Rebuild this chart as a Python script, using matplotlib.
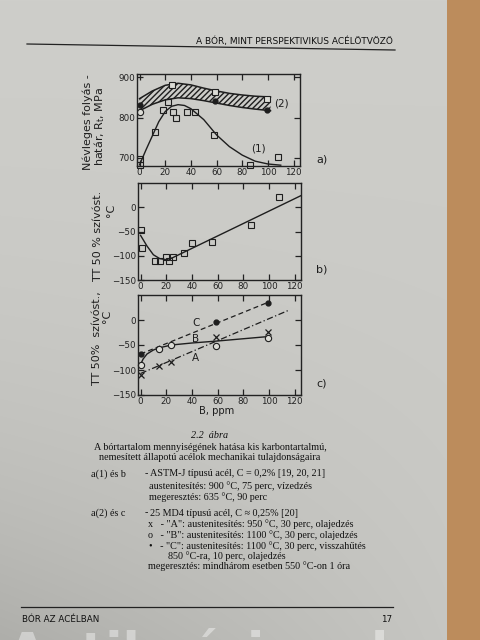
import numpy as np
import matplotlib
matplotlib.use("Agg")
import matplotlib.pyplot as plt

# ---------------- data ----------------
# panel a
a1_sq_x = [0, 0, 12, 18, 22, 26, 28, 37, 43, 58, 86, 108]
a1_sq_y = [697, 683, 765, 820, 839, 815, 798, 815, 815, 757, 683, 703]
a1_curve_x = [0, 5, 10, 15, 20, 25, 30, 35, 40, 50, 60, 70, 80, 90, 100, 110]
a1_curve_y = [683, 720, 755, 790, 815, 828, 832, 830, 822, 795, 757, 728, 707, 692, 685, 682]
a2_band_x = [0, 10, 20, 30, 40, 50, 60, 70, 80, 90, 102]
a2_band_hi = [847, 866, 880, 885, 881, 873, 866, 860, 856, 853, 851]
a2_band_lo = [817, 833, 844, 849, 847, 842, 836, 830, 825, 821, 817]
a2_dot_x = [0, 59, 99]
a2_dot_y = [832, 841, 819]
a2_circ_x = [0]
a2_circ_y = [813]
a2_sq_x = [25, 59, 99]
a2_sq_y = [880, 864, 847]

# panel b
b_sq_x = [0.5, 1, 11, 15, 20, 22.5, 25.5, 34, 40, 56, 86, 108]
b_sq_y = [-47, -85, -110, -111, -102, -111, -103, -95, -74, -71, -37, 22]
b_curve_x = [0, 5, 10, 15, 20, 25, 125]
b_curve_y = [-58, -80, -98, -106, -108, -104, 24]

# panel c
cA_x = [0, 14, 24, 59, 99]
cA_y = [-109, -92, -83, -33, -23]
cA_line_x = [0, 115]
cA_line_y = [-107, 19]
cB_x = [0, 14, 24, 59, 99]
cB_y = [-89, -57, -50, -51, -35]
cB_curve_x = [0, 2, 5, 10, 14, 24, 40, 60, 100]
cB_curve_y = [-89, -78, -68, -60, -56, -50, -46, -42, -33]
cC_x = [0, 59, 99]
cC_y = [-68, -4, 35]

xticks = [0, 20, 40, 60, 80, 100, 120]
a_yticks = [700, 800, 900]
bc_yticks = [-150, -100, -50, 0]

# ---------------- figure ----------------
W, H = 480, 640
fig = plt.figure(figsize=(4.8, 6.4), dpi=100)

# page background (photo of paper)
bg = fig.add_axes([0, 0, 1, 1], zorder=-10)
yy, xx = np.mgrid[0:H, 0:W]
base = 206 - 26 * (yy / H) ** 3 * (1 - xx / W) - 6 * (yy / H)
img = np.stack([base, base, base - 4], axis=-1)
edge = xx > 446
img[edge] = [188, 140, 92]
bg.imshow(np.clip(img, 0, 255).astype(np.uint8), extent=[0, W, H, 0], aspect='auto')
bg.set_xlim(0, W)
bg.set_ylim(H, 0)
bg.axis('off')

def P(x, y):
    return x / W, 1 - y / H

def mk_axes(x0, y0, x1, y1):
    ax = fig.add_axes([x0 / W, 1 - y1 / H, (x1 - x0) / W, (y1 - y0) / H])
    ax.set_facecolor('none')
    for s in ax.spines.values():
        s.set_linewidth(1.0)
        s.set_color('#222222')
    ax.tick_params(direction='in', top=True, right=True, length=4, width=0.9,
                   labelsize=6.3, colors='#222222', pad=1.5)
    ax.set_xlim(-2, 125)
    ax.set_xticks(xticks)
    return ax

ink = '#1e1e1e'
ms = 4.5

# ---- panel a ----
ax1 = mk_axes(137, 74, 300, 166)
ax1.set_ylim(680, 908)
ax1.set_yticks(a_yticks)
ax1.fill_between(a2_band_x, a2_band_lo, a2_band_hi, facecolor='none',
                 edgecolor=ink, hatch='//////', linewidth=0)
ax1.plot(a2_band_x, a2_band_hi, color=ink, lw=1.1)
ax1.plot(a2_band_x, a2_band_lo, color=ink, lw=1.1)
ax1.plot(a2_dot_x, a2_dot_y, 'o', color=ink, ms=3.5)
ax1.plot(a2_circ_x, a2_circ_y, 'o', mfc='#dcdcd6', mec=ink, ms=ms, mew=0.8)
ax1.plot(a2_sq_x, a2_sq_y, 's', mfc='#dcdcd6', mec=ink, ms=ms, mew=0.8)
ax1.plot(a1_curve_x, a1_curve_y, color=ink, lw=1.0)
ax1.plot(a1_sq_x, a1_sq_y, 's', mfc='none', mec=ink, ms=ms, mew=0.8, clip_on=False)
ax1.text(105, 836, '(2)', fontsize=7.5, color=ink, va='center')
ax1.text(87, 724, '(1)', fontsize=7.5, color=ink, va='center')

# ---- panel b ----
ax2 = mk_axes(138, 183, 301, 280)
ax2.set_ylim(-150, 50)
ax2.set_yticks(bc_yticks)
ax2.plot(b_curve_x, b_curve_y, color=ink, lw=1.0)
ax2.plot(b_sq_x, b_sq_y, 's', mfc='none', mec=ink, ms=ms, mew=0.8, clip_on=False)

# ---- panel c ----
ax3 = mk_axes(138, 295, 301, 395)
ax3.set_ylim(-150, 50)
ax3.set_yticks(bc_yticks)
ax3.plot([cC_x[0], cC_x[-1]], [cC_y[0], cC_y[-1]], color=ink, lw=0.9, ls=(0, (4, 2.5)))
ax3.plot(cC_x, cC_y, 'o', color=ink, ms=3.5, ls='none')
ax3.plot(cA_line_x, cA_line_y, color=ink, lw=0.9, ls=(0, (5, 2, 1, 2)))
ax3.plot(cA_x, cA_y, 'x', color=ink, ms=3.8, mew=0.9, ls='none')
ax3.plot(cB_curve_x, cB_curve_y, color=ink, lw=1.0)
ax3.plot(cB_x, cB_y, 'o', mfc='#dcdcd6', mec=ink, ms=ms, mew=0.8, ls='none', clip_on=False)
ax3.text(40, -7, 'C', fontsize=7.5, color=ink, va='center')
ax3.text(40, -39, 'B', fontsize=7.5, color=ink, va='center')
ax3.text(40, -76, 'A', fontsize=7.5, color=ink, va='center')

# ---- axis labels ----
lab = dict(color=ink, rotation=90, ha='center', va='center', fontsize=8)
fig.text(*P(88, 122), 'Névleges folyás -', **lab)
fig.text(*P(100, 126), 'határ, R$_\\mathregular{t}$, MPa', **lab)
fig.text(*P(98, 236), 'TT 50 % szívóst.', **lab)
fig.text(*P(111, 210), '°C', **lab)
fig.text(*P(97, 338), 'TT 50%  szívóst.,', **lab)
fig.text(*P(107, 316), '°C', **lab)
fig.text(*P(217, 411), 'B, ppm', color=ink, fontsize=7.2, ha='center', va='center')
fig.text(*P(316, 160), 'a)', color=ink, fontsize=8, va='center')
fig.text(*P(316, 270), 'b)', color=ink, fontsize=8, va='center')
fig.text(*P(316, 384), 'c)', color=ink, fontsize=8, va='center')

# ---- header / footer ----
fig.text(*P(393, 41), 'A BÓR, MINT PERSPEKTIVIKUS ACÉLÖTVÖZŐ', fontsize=6.5,
         color='#111111', va='center', ha='right', family='DejaVu Sans')
bg.plot([27, 395], [44, 50], color='#222222', lw=0.9)
bg.plot([21, 393], [607, 607], color='#222222', lw=0.9)
fig.text(*P(22, 619), 'BÓR AZ ACÉLBAN', fontsize=6.3, color='#111111', va='center')
fig.text(*P(392, 619), '17', fontsize=6.3, color='#111111', va='center', ha='right')
fig.text(*P(8, 668), 'Antikvárium.hu', fontsize=36, fontweight='bold',
         color='white', alpha=0.4, va='baseline')

# ---- caption ----
serif = dict(family='Liberation Serif', color='#111111', fontsize=7.3, va='center')
fig.text(*P(210, 436), '2.2  ábra', ha='center', style='italic', **serif)
fig.text(*P(210, 447), 'A bórtartalom mennyiségének hatása kis karbontartalmú,', ha='center', **serif)
fig.text(*P(210, 458), 'nemesített állapotú acélok mechanikai tulajdonságaira', ha='center', **serif)
fig.text(*P(91, 474), 'a(1) és b', **serif)
fig.text(*P(145, 474), '-', **serif)
fig.text(*P(150, 474), 'ASTM-J típusú acél, C = 0,2% [19, 20, 21]', **serif)
fig.text(*P(149, 486), 'austenitesítés: 900 °C, 75 perc, vízedzés', **serif)
fig.text(*P(149, 497), 'megeresztés: 635 °C, 90 perc', **serif)
fig.text(*P(91, 513), 'a(2) és c', **serif)
fig.text(*P(145, 513), '-', **serif)
fig.text(*P(150, 513), '25 MD4 típusú acél, C ≈ 0,25% [20]', **serif)
fig.text(*P(148, 524), 'x   - "A": austenitesítés: 950 °C, 30 perc, olajedzés', **serif)
fig.text(*P(148, 535), 'o   - "B": austenitesítés: 1100 °C, 30 perc, olajedzés', **serif)
fig.text(*P(149, 546), '•   - "C": austenitesítés: 1100 °C, 30 perc, visszahűtés', **serif)
fig.text(*P(168, 556), '850 °C-ra, 10 perc, olajedzés', **serif)
fig.text(*P(148, 566), 'megeresztés: mindhárom esetben 550 °C-on 1 óra', **serif)

fig.savefig('out.png', dpi=100)
